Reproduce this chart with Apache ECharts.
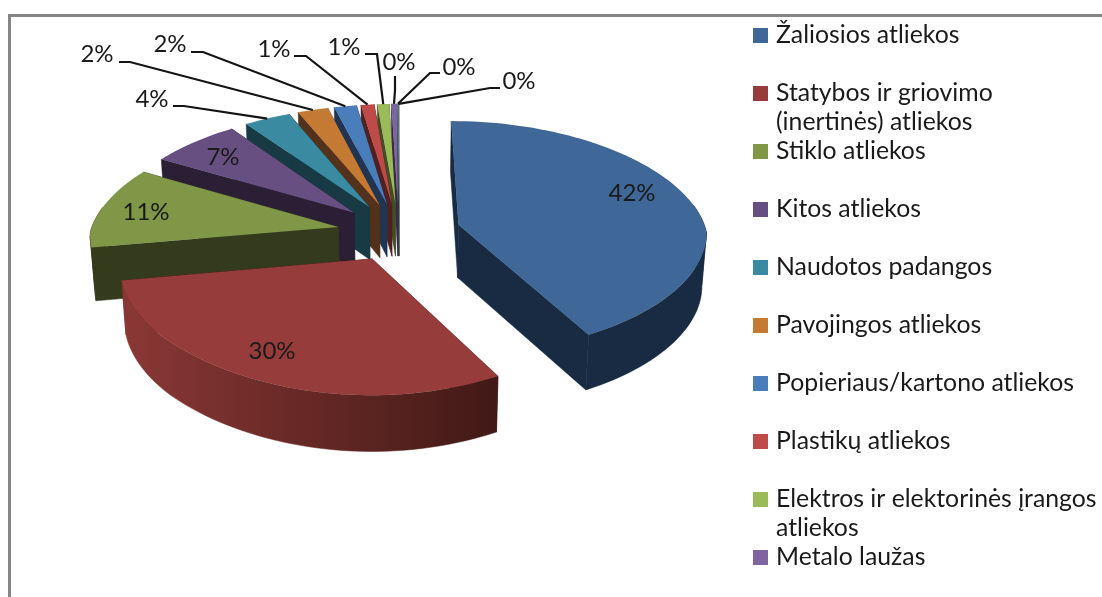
<!DOCTYPE html>
<html>
<head>
<meta charset="utf-8">
<style>
  html, body { margin: 0; padding: 0; background: #fff; }
  #chart { width: 1102px; height: 597px; }
</style>
<script src="https://cdn.jsdelivr.net/npm/echarts@6/dist/echarts.min.js"></script>
</head>
<body>
<div id="chart"></div>
<script>
const categories = [
  "Žaliosios atliekos",
  "Statybos ir griovimo\n(inertinės) atliekos",
  "Stiklo atliekos",
  "Kitos atliekos",
  "Naudotos padangos",
  "Pavojingos atliekos",
  "Popieriaus/kartono atliekos",
  "Plastikų atliekos",
  "Elektros ir elektorinės įrangos\natliekos",
  "Metalo laužas",
  "Kita 1",
  "Kita 2"
];
const shownInLegend = categories.slice(0, 10);
const shares = [41.9, 30.3, 11.2, 6.7, 3.5, 2.3, 1.7, 1.0, 0.9, 0.4, 0.07, 0.03];

const topColors = ["#3f6797", "#963d3b", "#7f9747", "#674f82", "#3a8aa2", "#c57a34", "#4a7ebb", "#be4b48", "#9bbb59", "#8064a2", "#4bacc6", "#f79646"];
const sideColors = ["#182b42", "#541f1d", "#343b1d", "#2a1f35", "#173a44", "#54311a", "#1f3553", "#51201f", "#414f25", "#352a45", "#1f4a56", "#6a3f1d"];

// text centres, then the stub each leader line starts with (null = label sits on the slice)
const labelSpots = [[632, 193], [272, 351], [146, 212], [223, 157], [152, 99], [97, 54], [170, 44], [274, 49], [344, 47], [399, 62], [459, 67], [519, 81]];
const leaderStubs = [null, null, null, null,
  [[173, 106], [184, 106]],
  [[119, 62], [130, 62]],
  [[191, 52], [203, 52]],
  [[294, 56], [306, 56]],
  [[365, 54], [377, 54]],
  [[395, 76], [395, 90]],
  [[440, 73], [430, 73]],
  [[500, 88], [490, 88]]
];

// 3D pie camera
const CX = 399, CY = 232, RX = 248, RY = 116, THICK = 53, EXPLODE = 0.25;

const total = shares.reduce((a, b) => a + b, 0);
const startAngles = [];
shares.reduce((acc, v, i) => {
  startAngles[i] = acc / total * 360;
  return acc + v;
}, 0);

function project(u, v, down) {
  const sx = v < 0 ? 1 / (1 - 0.14 * v) : Math.min(1 + 0.06 * v, 1.05);
  const sy = 1 / (1 - 0.105 * v);
  let x = CX + RX * u * sx;
  let y = CY + RY * v * sy;
  if (down) {
    x = CX + (x - CX) * 0.985;
    y += THICK * (1 + 0.05 * v);
  }
  return [x, y];
}

function slicePoint(i, deg, r, down) {
  const a0 = startAngles[i];
  const a1 = a0 + shares[i] / total * 360;
  const mid = (a0 + a1) / 2 * Math.PI / 180;
  const t = deg * Math.PI / 180;
  const u = EXPLODE * Math.sin(mid) + r * Math.sin(t);
  const v = -EXPLODE * Math.cos(mid) - r * Math.cos(t);
  return project(u, v, down);
}

function arcPoints(i, from, to, down) {
  const pts = [];
  const n = Math.max(1, Math.ceil((to - from) / 2));
  for (let k = 0; k <= n; k++) {
    pts.push(slicePoint(i, from + (to - from) * k / n, 1, down));
  }
  return pts;
}

function rimFill(i, upper) {
  if (i === 1) {
    return new echarts.graphic.LinearGradient(upper[upper.length - 1][0], 0, upper[0][0], 0, [
      { offset: 0, color: "#8a3835" },
      { offset: 1, color: "#411916" }
    ], true);
  }
  return sideColors[i];
}

// cut the arc where it turns back in x, a strip that folds over itself fills with a hole
function foldIndexes(upper) {
  const cuts = [0];
  for (let k = 1; k < upper.length - 1; k++) {
    const before = upper[k][0] - upper[k - 1][0];
    const after = upper[k + 1][0] - upper[k][0];
    if (before * after < 0) {
      cuts.push(k);
    }
  }
  cuts.push(upper.length - 1);
  return cuts;
}

function renderSlice(i) {
  const a0 = startAngles[i];
  const a1 = a0 + shares[i] / total * 360;
  const side = sideColors[i];
  const apex = slicePoint(i, 0, 0, false);
  const apexDown = slicePoint(i, 0, 0, true);
  const children = [];

  [a0, a1].forEach((a) => {
    children.push({
      type: "polygon",
      silent: true,
      shape: { points: [apex, slicePoint(i, a, 1, false), slicePoint(i, a, 1, true), apexDown] },
      style: { fill: side, stroke: side, lineWidth: 0.5 }
    });
  });

  const rimFrom = Math.max(a0, 80);
  const rimTo = Math.min(a1, 280);
  if (rimTo > rimFrom) {
    const upper = arcPoints(i, rimFrom, rimTo, false);
    const lower = arcPoints(i, rimFrom, rimTo, true);
    const fill = rimFill(i, upper);
    const cuts = foldIndexes(upper);
    for (let c = 0; c < cuts.length - 1; c++) {
      const top = upper.slice(cuts[c], cuts[c + 1] + 1);
      const bottom = lower.slice(cuts[c], cuts[c + 1] + 1).reverse();
      children.push({
        type: "polygon",
        silent: true,
        shape: { points: top.concat(bottom) },
        style: { fill, stroke: fill, lineWidth: 0.5 }
      });
    }
  }

  children.push({
    type: "polygon",
    silent: true,
    shape: { points: [apex].concat(arcPoints(i, a0, a1, false)) },
    style: { fill: topColors[i] }
  });
  return { type: "group", children };
}

function renderLabel(i) {
  const children = [];
  const stub = leaderStubs[i];
  if (stub) {
    const a0 = startAngles[i];
    const mid = a0 + shares[i] / total * 180;
    children.push({
      type: "polyline",
      silent: true,
      shape: { points: stub.concat([slicePoint(i, mid, 1, false)]) },
      style: { stroke: "#141414", lineWidth: 2.2, fill: null }
    });
  }
  children.push({
    type: "text",
    silent: true,
    x: labelSpots[i][0],
    y: labelSpots[i][1],
    style: {
      text: Math.round(shares[i]) + "%",
      fill: "#1a1a1a",
      font: "24px Lato",
      align: "center",
      verticalAlign: "middle"
    }
  });
  return { type: "group", children };
}

const sliceSeries = categories.map((name, i) => ({
  type: "custom",
  name,
  coordinateSystem: "none",
  z: i === 0 ? 1 : 14 - i,
  itemStyle: { color: topColors[i] },
  data: [[shares[i]]],
  renderItem: () => renderSlice(i)
}));

const labelSeries = {
  type: "custom",
  name: "labels",
  coordinateSystem: "none",
  z: 30,
  data: shares.map((v) => [v]),
  renderItem: (params) => renderLabel(params.dataIndex)
};

const chart = echarts.init(document.getElementById("chart"), null, { renderer: "canvas" });
chart.setOption({
  animation: false,
  backgroundColor: "#fff",
  legend: {
    orient: "vertical",
    left: 753,
    top: 21,
    height: 600,
    padding: 0,
    itemGap: 0,
    itemWidth: 15,
    itemHeight: 58,
    selectedMode: false,
    data: shownInLegend,
    icon: "path://M0 0L0 0ZM0 7H15V22H0ZM0 58L0 58Z",
    formatter: (name) => (name.includes("\n") ? name : name + "\n "),
    textStyle: {
      fontFamily: "Lato",
      fontSize: 24.8,
      lineHeight: 29,
      color: "#1a1a1a",
      padding: [0, 0, 0, 3]
    }
  },
  graphic: [{
    type: "polyline",
    silent: true,
    shape: { points: [[9.5, 597], [9.5, 15.5], [1102, 15.5]] },
    style: { stroke: "#868686", lineWidth: 3, fill: null }
  }],
  series: sliceSeries.concat([labelSeries])
});
</script>
</body>
</html>
